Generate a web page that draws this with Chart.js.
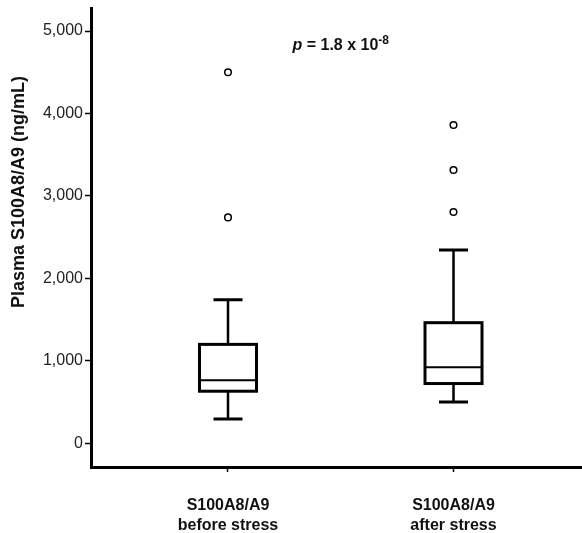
<!DOCTYPE html>
<html>
<head>
<meta charset="utf-8">
<script src="https://cdn.jsdelivr.net/npm/chart.js@4"></script>
<style>
  html, body { margin: 0; padding: 0; background: #fff; }
  #wrap { width: 582px; height: 533px; }
</style>
</head>
<body>
<div id="wrap"><canvas id="c" width="582" height="533"></canvas></div>
<script>
// ---- data ----
const categories = [['S100A8/A9', 'before stress'], ['S100A8/A9', 'after stress']];
const groupPos = [1, 2];
const whiskerLow = [295, 500];
const q1 = [632, 725];
const median = [765, 922];
const q3 = [1200, 1463];
const whiskerHigh = [1740, 2345];
const outliers = [[2740, 4500], [2805, 3315, 3860]];
const yTicks = [0, 1000, 2000, 3000, 4000, 5000];
const yTitle = 'Plasma S100A8/A9 (ng/mL)';
const pText = { italic: 'p', main: ' = 1.8 x 10', sup: '-8' };
const pAnchor = { x: 1.5, y: 4860 };

// ---- rendering ----
const FONT = '"Liberation Sans", Arial, sans-serif';
const outlierData = [];
outliers.forEach((arr, i) => arr.forEach(v => outlierData.push({ x: groupPos[i], y: v })));

const boxPlugin = {
  id: 'boxes',
  beforeDatasetsDraw(chart) {
    const ctx = chart.ctx;
    const xs = chart.scales.x, ys = chart.scales.y;
    const boxHalf = 28.5, capHalf = 14.5;
    ctx.save();
    ctx.strokeStyle = '#000';
    ctx.lineCap = 'butt';
    groupPos.forEach((g, i) => {
      const cx = xs.getPixelForValue(g);
      const yLo = ys.getPixelForValue(whiskerLow[i]);
      const yQ1 = ys.getPixelForValue(q1[i]);
      const yMed = ys.getPixelForValue(median[i]);
      const yQ3 = ys.getPixelForValue(q3[i]);
      const yHi = ys.getPixelForValue(whiskerHigh[i]);
      // whiskers
      ctx.lineWidth = 2.5;
      ctx.beginPath();
      ctx.moveTo(cx, yHi); ctx.lineTo(cx, yQ3);
      ctx.moveTo(cx, yQ1); ctx.lineTo(cx, yLo);
      ctx.stroke();
      ctx.lineWidth = 3;
      ctx.beginPath();
      ctx.moveTo(cx - capHalf, yHi); ctx.lineTo(cx + capHalf, yHi);
      ctx.moveTo(cx - capHalf, yLo); ctx.lineTo(cx + capHalf, yLo);
      ctx.stroke();
      // box
      ctx.fillStyle = '#fff';
      ctx.fillRect(cx - boxHalf, yQ3, boxHalf * 2, yQ1 - yQ3);
      ctx.lineWidth = 3;
      ctx.strokeRect(cx - boxHalf, yQ3, boxHalf * 2, yQ1 - yQ3);
      // median
      ctx.lineWidth = 2;
      ctx.beginPath();
      ctx.moveTo(cx - boxHalf, yMed); ctx.lineTo(cx + boxHalf, yMed);
      ctx.stroke();
    });
    ctx.restore();
  },
  afterDraw(chart) {
    const ctx = chart.ctx;
    const xs = chart.scales.x, ys = chart.scales.y;
    ctx.save();
    ctx.fillStyle = '#111';
    // y-axis title
    ctx.translate(19, 192);
    ctx.rotate(-Math.PI / 2);
    ctx.font = 'bold 18px ' + FONT;
    ctx.textAlign = 'center';
    ctx.textBaseline = 'middle';
    ctx.fillText(yTitle, 0, 0);
    ctx.restore();
    // p-value annotation
    ctx.save();
    ctx.fillStyle = '#111';
    ctx.textBaseline = 'alphabetic';
    ctx.textAlign = 'left';
    const fItal = 'italic bold 16px ' + FONT;
    const fMain = 'bold 16px ' + FONT;
    const fSup = 'bold 12px ' + FONT;
    ctx.font = fItal; const w1 = ctx.measureText(pText.italic).width;
    ctx.font = fMain; const w2 = ctx.measureText(pText.main).width;
    ctx.font = fSup; const w3 = ctx.measureText(pText.sup).width;
    const total = w1 + w2 + w3;
    const cx = xs.getPixelForValue(pAnchor.x);
    const base = ys.getPixelForValue(pAnchor.y) + 7;
    let x = cx - total / 2;
    ctx.font = fItal; ctx.fillText(pText.italic, x, base); x += w1;
    ctx.font = fMain; ctx.fillText(pText.main, x, base); x += w2;
    ctx.font = fSup; ctx.fillText(pText.sup, x, base - 6);
    ctx.restore();
  }
};

new Chart(document.getElementById('c'), {
  type: 'scatter',
  data: {
    datasets: [{
      data: outlierData,
      pointStyle: 'circle',
      pointRadius: 3.3,
      pointHoverRadius: 3.3,
      borderWidth: 1.5,
      borderColor: '#000',
      backgroundColor: '#fff'
    }]
  },
  options: {
    responsive: false,
    animation: false,
    events: [],
    layout: { autoPadding: false, padding: { top: 8, right: 0, left: 0, bottom: 0 } },
    plugins: { legend: { display: false }, tooltip: { enabled: false } },
    scales: {
      x: {
        type: 'linear',
        min: 0.3925,
        max: 2.5698,
        afterBuildTicks(scale) { scale.ticks = groupPos.map(v => ({ value: v })); },
        afterFit(scale) { scale.height = 66; scale.paddingLeft = 0; scale.paddingRight = 0; },
        grid: { drawOnChartArea: false, drawTicks: true, tickLength: 5, tickColor: '#000', tickWidth: 1.5 },
        border: { display: true, color: '#000', width: 3 },
        ticks: {
          autoSkip: false,
          maxRotation: 0,
          padding: 24,
          color: '#111',
          font: { family: FONT, size: 16, weight: 'bold', lineHeight: 1.25 },
          callback(v) { const i = groupPos.indexOf(v); return i >= 0 ? categories[i] : ''; }
        }
      },
      y: {
        type: 'linear',
        min: -287,
        max: 5279,
        afterBuildTicks(scale) { scale.ticks = yTicks.map(v => ({ value: v })); },
        afterFit(scale) { scale.width = 91; scale.paddingTop = 0; scale.paddingBottom = 0; },
        grid: { drawOnChartArea: false, drawTicks: true, tickLength: 6, tickColor: '#000', tickWidth: 1.5 },
        border: { display: true, color: '#000', width: 3 },
        ticks: {
          padding: 2,
          color: '#222',
          font: { family: FONT, size: 16 },
          callback(v) { return v.toLocaleString('en-US'); }
        }
      }
    }
  },
  plugins: [boxPlugin]
});
</script>
</body>
</html>
